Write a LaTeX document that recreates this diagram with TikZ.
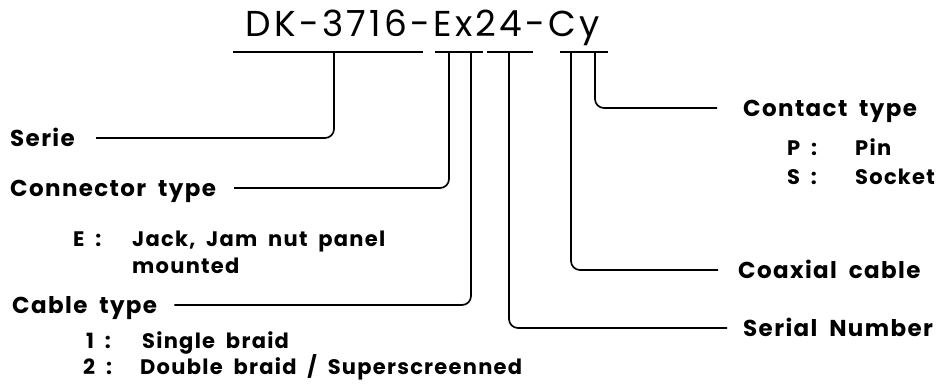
\documentclass[tikz,border=0pt]{standalone}
\usepackage{fontspec}
\setmainfont{Poppins}
\newfontfamily\codefont[LetterSpace=9, WordSpace=1.6]{Poppins}
\newfontfamily\lblfont[LetterSpace=6, WordSpace=1.9]{Poppins}
\begin{document}
\begin{tikzpicture}[x=1pt, y=-1pt,
    lbl/.style={anchor=west, inner sep=0pt, text height=17pt, text depth=0pt,
        font=\lblfont\bfseries\fontsize{23}{23}\selectfont},
    opt/.style={anchor=west, inner sep=0pt, text height=16pt, text depth=0pt,
        font=\lblfont\bfseries\fontsize{21}{21}\selectfont},
    wire/.style={line width=1.7pt, rounded corners=9pt}]
    \useasboundingbox (0,0) rectangle (948,383);

    % code
    \node[inner sep=0pt, font=\codefont\fontsize{36}{36}\selectfont] (code) at (423,28) {DK-3716-Ex24-Cy};

    % underlines of the code
    \draw[line width=1.7pt] (233,52) -- (423,52);
    \draw[line width=1.7pt] (435,52) -- (483,52);
    \draw[line width=1.7pt] (487,52) -- (533,52);
    \draw[line width=1.7pt] (560,52) -- (608,52);
    \coordinate (dSerie) at (334,52);
    \coordinate (dConn) at (449,52);
    \coordinate (dCable) at (471,52);
    \coordinate (dSerial) at (509,52);
    \coordinate (dCoax) at (571,52);
    \coordinate (dContact) at (595,52);

    % left labels
    \node[lbl] (serie) at (10,138) {Serie};
    \node[lbl] (conn) at (10,188) {Connector type};
    \node[opt] (eKey) at (73,238) {E :};
    \node[opt] (eTxt) at (132,238) {Jack, Jam nut panel};
    \node[opt] (eTxt2) at (132,265) {mounted};
    \node[lbl] (cable) at (12,305) {Cable type};
    \node[opt] (oneKey) at (86,340) {1 :};
    \node[opt] (oneTxt) at (142,340) {Single braid};
    \node[opt] (twoKey) at (83,366) {2 :};
    \node[opt] (twoTxt) at (140,366) {Double braid / Superscreenned};

    % right labels
    \node[lbl] (contact) at (743,108) {Contact type};
    \node[opt] (pKey) at (787,147) {P :};
    \node[opt] (pTxt) at (855,147) {Pin};
    \node[opt] (sKey) at (787,176) {S :};
    \node[opt] (sTxt) at (855,176) {Socket};
    \node[lbl] (coax) at (738,270) {Coaxial cable};
    \node[lbl] (serial) at (743,328) {Serial Number};

    % leaders
    \draw[wire] (dSerie) |- ([xshift=21pt]serie.east);
    \draw[wire] (dConn) |- ([xshift=18pt]conn.east);
    \draw[wire] (dCable) |- ([xshift=17pt]cable.east);
    \draw[wire] (dSerial) |- ([xshift=-16pt]serial.west);
    \draw[wire] (dCoax) |- ([xshift=-20pt]coax.west);
    \draw[wire] (dContact) |- ([xshift=-26pt]contact.west);

\end{tikzpicture}
\end{document}
